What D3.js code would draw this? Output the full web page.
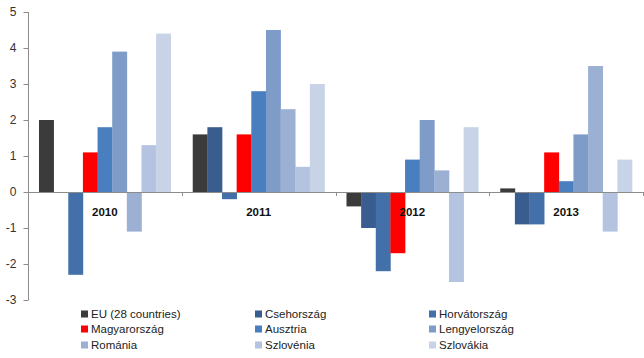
<!DOCTYPE html>
<html><head><meta charset="utf-8">
<script src="https://cdn.jsdelivr.net/npm/d3@7"></script>
<style>body{margin:0;background:#fff}svg{display:block}</style>
</head><body><svg id="c" width="644" height="358"></svg>
<script>
const years = ["2010","2011","2012","2013"];
const seriesNames = ["EU (28 countries)","Csehország","Horvátország","Magyarország","Ausztria","Lengyelország","Románia","Szlovénia","Szlovákia"];
const seriesColors = ["#3b3b3b","#3a5d8f","#4370a8","#ff0000","#4a7fbf","#7f9cc9","#9bb0d3","#b4c3df","#c8d3e7"];
const euValues = [2.0, 1.6, -0.4, 0.1];
const csehValues = [0, 1.8, -1.0, -0.9];
const horvatValues = [-2.3, -0.2, -2.2, -0.9];
const magyarValues = [1.1, 1.6, -1.7, 1.1];
const ausztriaValues = [1.8, 2.8, 0.9, 0.3];
const lengyelValues = [3.9, 4.5, 2.0, 1.6];
const romaniaValues = [-1.1, 2.3, 0.6, 3.5];
const szloveniaValues = [1.3, 0.7, -2.5, -1.1];
const szlovakiaValues = [4.4, 3.0, 1.8, 0.9];
const yTicks = [5,4,3,2,1,0,-1,-2,-3];
const yTickLabels = ["5","4","3","2","1","0","-1","-2","-3"];

const allValues = [euValues,csehValues,horvatValues,magyarValues,ausztriaValues,lengyelValues,romaniaValues,szloveniaValues,szlovakiaValues];

const svg = d3.select("#c");
const mLeft = 28, mRight = 643, mTop = 12, mBottom = 300;
const y = d3.scaleLinear().domain([-3,5]).range([mBottom, mTop]);
const x0 = d3.scaleBand().domain(years).range([mLeft, mRight]).paddingInner(0.143).paddingOuter(0.0715);
const x1 = d3.scaleBand().domain(seriesNames).range([0, x0.bandwidth()]);

// bars
years.forEach((yr, i) => {
  const g = svg.append("g").attr("transform", `translate(${x0(yr)},0)`);
  seriesNames.forEach((s, j) => {
    const v = allValues[j][i];
    g.append("rect")
      .attr("x", x1(s)).attr("width", x1.bandwidth()+0.3)
      .attr("y", y(Math.max(0, v))).attr("height", Math.abs(y(v) - y(0)))
      .attr("fill", seriesColors[j]);
  });
});

// zero line and category ticks
const step = (mRight-mLeft)/years.length;
svg.append("line").attr("x1", mLeft).attr("x2", mRight).attr("y1", y(0)+0.5).attr("y2", y(0)+0.5)
  .attr("stroke", "#8c8c8c").attr("stroke-width", 1);
for (let k = 1; k <= years.length; k++) {
  const xx = Math.round(mLeft + k*step) + 0.5;
  svg.append("line").attr("x1", xx).attr("x2", xx).attr("y1", y(0)).attr("y2", y(0)+4)
    .attr("stroke", "#8c8c8c");
}
// category labels
svg.append("g").selectAll("text").data(years).join("text")
  .attr("x", d => x0(d) + x0.bandwidth()/2).attr("y", y(0)+24)
  .attr("text-anchor", "middle").attr("font-family", "Liberation Sans, Arial, sans-serif")
  .attr("font-weight", "bold").attr("font-size", "11.5px").attr("fill", "#111")
  .text(d => d);

// y axis
const yAxis = d3.axisLeft(y).tickValues(yTicks).tickSize(5).tickPadding(7)
  .tickFormat((d, i) => yTickLabels[i]);
const ya = svg.append("g").attr("transform", `translate(${mLeft+0.5},0)`).call(yAxis);
ya.select(".domain").attr("stroke", "#8c8c8c").attr("d", `M0,${mTop}V${mBottom}`);
ya.selectAll(".tick line").attr("stroke", "#8c8c8c");
ya.selectAll(".tick text").attr("font-family", "Liberation Sans, Arial, sans-serif")
  .attr("font-size", "12px").attr("fill", "#333");

// legend
const colX = [81, 255, 429];
const rowY = [314, 329, 345];
const lg = svg.append("g");
seriesNames.forEach((s, j) => {
  const cx = colX[j % 3], cy = rowY[Math.floor(j / 3)];
  lg.append("rect").attr("x", cx).attr("y", cy-3.5).attr("width", 7).attr("height", 7).attr("fill", seriesColors[j]);
  lg.append("text").attr("x", cx+10).attr("y", cy).attr("dy", "0.35em")
    .attr("font-family", "Liberation Sans, Arial, sans-serif").attr("font-size", "11.5px").attr("fill", "#222")
    .text(s);
});
</script></body></html>
